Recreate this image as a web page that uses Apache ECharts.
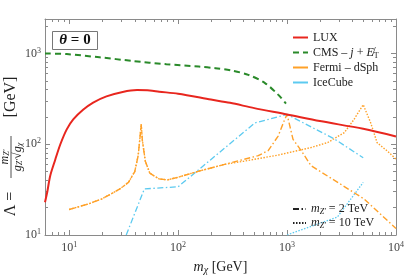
<!DOCTYPE html>
<html><head><meta charset="utf-8">
<script src="https://cdn.jsdelivr.net/npm/echarts@6/dist/echarts.min.js"></script>
<style>html,body{margin:0;padding:0;background:#fff}#c{width:407px;height:280px}</style>
</head><body><div id="c"></div>
<script>
// ---- axis ranges & tick labels ----
const xMin = 6, xMax = 10000, yMin = 10, yMax = 2400;
const xMajor = [10, 100, 1000, 10000];
const yMajor = [10, 100, 1000];

// ---- LUX ----
const luxM = [6, 6.3, 6.7, 7.46, 8.3, 9.5, 10.9, 13.5, 16.6, 22, 31, 42, 55, 67, 100, 200, 300, 500, 1000, 2000, 5000, 10000];
const luxL = [23, 30, 45, 68, 100, 146, 188, 241, 288, 337, 377, 395, 392, 380, 360, 311, 286, 250, 213, 180, 148, 122];

// ---- CMS j + MET ----
const cmsM = [6, 9.5, 19, 38, 78, 155, 220, 309, 441, 627, 828, 977];
const cmsL = [1000, 985, 908, 828, 762, 718, 689, 649, 582, 472, 352, 281];

// ---- Fermi dSph ----
const fermi2M = [10, 15, 20, 29, 35, 40, 43, 45, 45.8, 47, 50, 55, 67, 80, 100, 150, 267, 400, 544, 671, 828, 952, 1000, 1135, 1350, 1660, 2400, 5080, 10000];
const fermi2L = [19.1, 22, 25, 32, 38, 50, 75, 130, 166, 110, 65, 48, 41.4, 40.5, 43.3, 50, 60, 68, 75, 85, 123, 188, 213, 113, 85, 58, 44, 25, 11.8];
const fermi10M = [10, 15, 20, 29, 35, 40, 43, 45, 45.8, 47, 50, 55, 67, 80, 100, 150, 267, 400, 828, 1660, 2360, 3350, 4120, 5000, 5850, 6710, 8280, 10000];
const fermi10L = [19.1, 22, 25, 32, 38, 50, 75, 130, 166, 110, 65, 48, 41.4, 40.5, 43.3, 50, 60, 65, 76, 92, 104.5, 134, 188, 273, 173, 104, 84.6, 68.6];

// ---- IceCube ----
const ice2M = [33.4, 49, 100, 508, 1000, 2700, 5000];
const ice2L = [10, 32.2, 34, 172, 213, 115, 71];
const ice10M = [1000, 2900, 5000];
const ice10L = [10, 15.8, 38];

const zip = (a, b) => a.map((v, i) => [v, b[i]]);

function minorTicks(lo, hi) {
  const out = [];
  for (let e = Math.floor(Math.log10(lo)); e <= Math.ceil(Math.log10(hi)); e++) {
    for (let k = 2; k <= 9; k++) { const v = k * Math.pow(10, e); if (v > lo && v < hi) out.push(v); }
  }
  return out;
}
const xMinor = minorTicks(xMin, xMax), yMinor = minorTicks(yMin, yMax);

const FONT = '"Liberation Serif", "DejaVu Serif", serif';
const AX = '#8a8a8a';
const supFmt = v => '{b|10}{s|' + Math.round(Math.log10(v)) + '}';
const labelRich = { b: { fontSize: 12, fontFamily: FONT, color: '#444' }, s: { fontSize: 8, fontFamily: FONT, color: '#444', verticalAlign: 'top', lineHeight: 14 } };

function xAx(pos, major, show) {
  return {
    type: 'log', position: pos, min: xMin, max: xMax, logBase: 10,
    axisLine: { show: show, lineStyle: { color: AX, width: 1 } },
    axisTick: { show: true, inside: true, length: major ? 5 : 3, customValues: major ? xMajor : xMinor, lineStyle: { color: AX } },
    axisLabel: { show: pos === 'bottom' && major, customValues: xMajor, formatter: supFmt, rich: labelRich, margin: 6 },
    splitLine: { show: false }, minorTick: { show: false },
    name: (pos === 'bottom' && major) ? '{i|m}{s|χ} [GeV]' : '',
    nameLocation: 'middle', nameGap: 24,
    nameTextStyle: { fontFamily: FONT, fontSize: 14, color: '#222', rich: { i: { fontStyle: 'italic', fontFamily: FONT, fontSize: 14, color: '#222' }, s: { fontStyle: 'italic', fontFamily: FONT, fontSize: 10, color: '#222', verticalAlign: 'bottom', padding: [6, 0, 0, 0] } } }
  };
}
function yAx(pos, major, show) {
  return {
    type: 'log', position: pos, min: yMin, max: yMax, logBase: 10,
    axisLine: { show: show, lineStyle: { color: AX, width: 1 } },
    axisTick: { show: true, inside: true, length: major ? 5 : 3, customValues: major ? yMajor : yMinor, lineStyle: { color: AX } },
    axisLabel: { show: pos === 'left' && major, customValues: yMajor, formatter: supFmt, rich: labelRich, margin: 4 },
    splitLine: { show: false }, minorTick: { show: false }
  };
}

const ORANGE = '#ffa128', BLUE = '#5ccaf0';
const DASHDOT = [6, 2.5, 1.5, 2.5], DOT = [1.5, 1.5];

function line(name, data, color, width, type, smooth) {
  return { name: name, type: 'line', data: data, symbol: 'none', smooth: smooth || false, silent: true,
    lineStyle: { color: color, width: width, type: type }, itemStyle: { color: color }, z: 3 };
}
const legText = (extra) => ({ fontFamily: FONT, fontSize: 12, color: '#222', lineHeight: 15,
  rich: { i: { fontStyle: 'italic', fontFamily: FONT, fontSize: 12, color: '#222' }, s: { fontStyle: extra, fontFamily: FONT, fontSize: 8, color: '#222', verticalAlign: 'bottom', padding: [4, 0, 0, 0] } } });

const chart = echarts.init(document.getElementById('c'), null, { renderer: 'canvas' });
chart.setOption({
  animation: false,
  backgroundColor: '#fff',
  grid: { left: 45, right: 8, top: 19, bottom: 44 },
  xAxis: [xAx('bottom', true, true), xAx('bottom', false, false), xAx('top', true, true), xAx('top', false, false)],
  yAxis: [yAx('left', true, true), yAx('left', false, false), yAx('right', true, true), yAx('right', false, false)],
  legend: [
    { data: ['LUX', 'CMS', 'Fermi', 'IceCube'], orient: 'vertical', left: 287, top: 25, itemGap: 0, itemWidth: 15, itemHeight: 15,
      selectedMode: false, itemStyle: { opacity: 0 },
      formatter: n => ({ LUX: 'LUX', CMS: 'CMS – {i|j} + {i|E̸}{s|T}', Fermi: 'Fermi – dSph', IceCube: 'IceCube' }[n]),
      textStyle: legText('normal') },
    { data: ['z2', 'z10'], orient: 'vertical', left: 287, top: 197, itemGap: 0, itemWidth: 13, itemHeight: 14,
      selectedMode: false, itemStyle: { opacity: 0 },
      formatter: n => ({ z2: '{i|m}{s|Z′} = 2 TeV', z10: '{i|m}{s|Z′} = 10 TeV' }[n]),
      textStyle: Object.assign(legText('italic'), { lineHeight: 14 }) }
  ],
  series: [
    line('IceCube2', zip(ice2M, ice2L), BLUE, 1.3, DASHDOT),
    line('IceCube10', zip(ice10M, ice10L), BLUE, 1.3, DOT),
    line('Fermi10', zip(fermi10M, fermi10L), ORANGE, 1.4, DOT),
    line('Fermi2', zip(fermi2M, fermi2L), ORANGE, 1.4, DASHDOT),
    line('CMS', zip(cmsM, cmsL), '#2a8a2a', 2, [6, 4], 0.3),
    line('LUX', zip(luxM, luxL), '#e8261e', 2, 'solid', 0.3),
    line('Fermi', [], ORANGE, 2, 'solid'),
    line('IceCube', [], BLUE, 2, 'solid'),
    line('z2', [], '#222', 1.5, DASHDOT),
    line('z10', [], '#222', 1.5, DOT)
  ],
  graphic: [
    { type: 'group', left: 52, top: 31, children: [
      { type: 'rect', shape: { x: 0, y: 0, width: 45, height: 18 }, style: { fill: '#fff', stroke: '#777', lineWidth: 1 } },
      { type: 'text', x: 22.5, y: 9, style: { text: '{t|θ} = 0', align: 'center', verticalAlign: 'middle', font: 'bold 15px ' + FONT, fill: '#111',
        rich: { t: { fontStyle: 'italic', fontWeight: 'bold', fontSize: 15, fontFamily: FONT, fill: '#111' } } } }
    ] },
    { type: 'group', x: 11, y: 145, rotation: Math.PI / 2, children: [
      { type: 'text', x: -59, y: 0, style: { text: 'Λ =', align: 'center', verticalAlign: 'middle', font: '16px ' + FONT, fill: '#222' } },
      { type: 'text', x: -12, y: -6, style: { text: '{i|m}{s|Z′}', align: 'center', verticalAlign: 'middle', font: 'italic 12px ' + FONT, fill: '#222',
        rich: { i: { fontStyle: 'italic', fontSize: 12, fontFamily: FONT }, s: { fontStyle: 'italic', fontSize: 8, fontFamily: FONT, verticalAlign: 'bottom', padding: [4, 0, 0, 0] } } } },
      { type: 'line', shape: { x1: -33, y1: 0, x2: 9, y2: 0 }, style: { stroke: '#222', lineWidth: 0.8 } },
      { type: 'text', x: -12, y: 7, style: { text: '{i|g}{s|Z′}√{i|g}{s|χ}', align: 'center', verticalAlign: 'middle', font: 'italic 12px ' + FONT, fill: '#222',
        rich: { i: { fontStyle: 'italic', fontSize: 12, fontFamily: FONT }, s: { fontStyle: 'italic', fontSize: 8, fontFamily: FONT, verticalAlign: 'bottom', padding: [4, 0, 0, 0] } } } },
      { type: 'text', x: 48, y: 0, style: { text: '[GeV]', align: 'center', verticalAlign: 'middle', font: '16px ' + FONT, fill: '#222' } }
    ] }
  ]
});
</script></body></html>
